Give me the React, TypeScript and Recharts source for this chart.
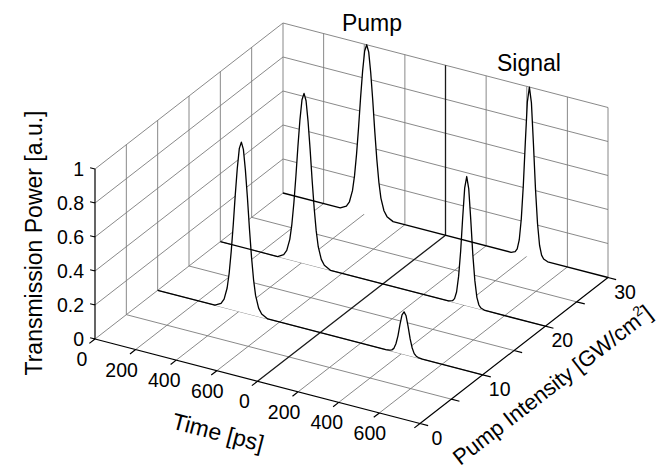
import React from "react";
import { ScatterChart, Scatter, XAxis, YAxis } from "recharts";

// ---- data ----
const timeTicks = [0, 200, 400, 600, 800, 1000, 1200, 1400, 1600];
const timeTickLabels = ["0", "200", "400", "600", "0", "200", "400", "600", ""];
const intensityTicks = [0, 5, 10, 15, 20, 25, 30];
const intensityTickLabels = ["0", "", "10", "", "20", "", "30"];
const powerTicks = [0, 0.2, 0.4, 0.6, 0.8, 1];
const powerTickLabels = ["0", "0.2", "0.4", "0.6", "0.8", "1"];
const sectionBreakPs = 800;

const intensities = [10, 20, 30];
const timePs = [
  0, 282, 312, 327, 342, 352, 362, 372, 382, 392, 402, 412, 422, 432, 442, 452, 462, 472, 482, 497, 512, 542,
  1123, 1143, 1153, 1163, 1173, 1183, 1193, 1203, 1213, 1223, 1233, 1243, 1253, 1263, 1273, 1283, 1303, 1600,
];
const power10 = [
  0, 0, 0.02, 0.05, 0.12, 0.21, 0.34, 0.5, 0.68, 0.84, 0.96, 1, 0.96, 0.84, 0.68, 0.5, 0.34, 0.21, 0.12, 0.05, 0.02, 0,
  0, 0.003, 0.008, 0.02, 0.05, 0.1, 0.17, 0.23, 0.25, 0.23, 0.17, 0.1, 0.05, 0.02, 0.008, 0.003, 0, 0,
];
const power20 = [
  0, 0, 0.02, 0.05, 0.12, 0.21, 0.34, 0.5, 0.68, 0.84, 0.96, 1, 0.96, 0.84, 0.68, 0.5, 0.34, 0.21, 0.12, 0.05, 0.02, 0,
  0, 0.008, 0.023, 0.065, 0.16, 0.31, 0.51, 0.69, 0.76, 0.69, 0.51, 0.31, 0.16, 0.065, 0.023, 0.008, 0, 0,
];
const power30 = [
  0, 0, 0.02, 0.05, 0.12, 0.21, 0.34, 0.5, 0.68, 0.84, 0.96, 1, 0.96, 0.84, 0.68, 0.5, 0.34, 0.21, 0.12, 0.05, 0.02, 0,
  0, 0.01, 0.03, 0.085, 0.21, 0.41, 0.67, 0.91, 1, 0.91, 0.67, 0.41, 0.21, 0.085, 0.03, 0.01, 0, 0,
];
const powerSeries = [power10, power20, power30];

// ---- 3d box -> screen projection (layout) ----
const W = 663;
const H = 474;
const T_MAX = 1600;
const I_MAX = 30;
const ORIGIN = { x: 95, y: 339 };
const T_VEC = { x: 325, y: 84.5 };
const I_VEC = { x: 188, y: -146 };
const Z_VEC = { x: 0, y: -170 };

type P3 = [number, number, number];

const project = ([t, i, z]: P3) => ({
  x: ORIGIN.x + (T_VEC.x * t) / T_MAX + (I_VEC.x * i) / I_MAX + Z_VEC.x * z,
  y: ORIGIN.y + (T_VEC.y * t) / T_MAX + (I_VEC.y * i) / I_MAX + Z_VEC.y * z,
});

const segs = (list: [P3, P3][]) => list.flatMap(([a, b]) => [project(a), project(b)]);

const gridList: [P3, P3][] = [];
intensityTicks.forEach((i) => i > 0 && gridList.push([[0, i, 0], [0, i, 1]]));
powerTicks.forEach((z) => gridList.push([[0, 0, z], [0, I_MAX, z]]));
timeTicks.forEach((t) => t > 0 && t !== sectionBreakPs && gridList.push([[t, I_MAX, 0], [t, I_MAX, 1]]));
powerTicks.forEach((z) => z > 0 && gridList.push([[0, I_MAX, z], [T_MAX, I_MAX, z]]));
timeTicks.forEach((t) => t > 0 && t < T_MAX && t !== sectionBreakPs && gridList.push([[t, 0, 0], [t, I_MAX, 0]]));
intensityTicks.forEach((i) => i > 0 && i < I_MAX && gridList.push([[0, i, 0], [T_MAX, i, 0]]));

const dividerList: [P3, P3][] = [
  [[sectionBreakPs, 0, 0], [sectionBreakPs, I_MAX, 0]],
  [[sectionBreakPs, I_MAX, 0], [sectionBreakPs, I_MAX, 1]],
];

const axisList: [P3, P3][] = [
  [[0, 0, 0], [0, 0, 1]],
  [[0, 0, 0], [T_MAX, 0, 0]],
  [[T_MAX, 0, 0], [T_MAX, I_MAX, 0]],
];
powerTicks.forEach((z) => axisList.push([[0, 0, z], [-24, 0, z]]));
timeTicks.forEach((t) => axisList.push([[t, 0, 0], [t, -0.9, 0]]));
intensityTicks.forEach((i) => axisList.push([[T_MAX, i, 0], [T_MAX + 40, i, 0]]));

const curveData = (pw: number[], i: number) => timePs.map((t, k) => project([t, i, pw[k]]));
const fillData = (pw: number[], i: number) => [
  ...curveData(pw, i),
  project([T_MAX, i, 0]),
  project([0, i, 0]),
];

const timeLabelDx = [-13, -14, -12, -9.5];
const timeLabelData = timeTicks
  .map((t, k) => {
    const p = project([t, 0, 0]);
    return { x: p.x + timeLabelDx[k % 4], y: p.y + 27, label: timeTickLabels[k] };
  })
  .filter((d) => d.label);
const intensityLabelData = intensityTicks
  .map((i, k) => {
    const p = project([T_MAX, i, 0]);
    return { x: p.x + 17, y: p.y + 21, label: intensityTickLabels[k] };
  })
  .filter((d) => d.label);
const powerLabelData = powerTicks.map((z, k) => {
  const p = project([0, 0, z]);
  return { x: p.x - 11, y: p.y + 7, label: powerTickLabels[k] };
});

const titleData = [
  { x: 372, y: 31, label: "Pump", angle: 0 },
  { x: 529, y: 71, label: "Signal", angle: 0 },
  { x: 42, y: 243, label: "Transmission Power [a.u.]", angle: -90 },
  { x: 216, y: 440, label: "Time [ps]", angle: 14.6 },
];

const FONT = "'Liberation Sans', Arial, Helvetica, sans-serif";

const noDot = () => <g />;

const segmentLine = (stroke: string, width: number) => (props: any) => {
  const pts = props.points || [];
  let d = "";
  for (let k = 0; k + 1 < pts.length; k += 2) {
    d += `M${pts[k].x},${pts[k].y}L${pts[k + 1].x},${pts[k + 1].y}`;
  }
  return <path d={d} stroke={stroke} strokeWidth={width} fill="none" />;
};

const polyLine = (props: any) => {
  const pts = props.points || [];
  const d = "M" + pts.map((p: any) => `${p.x},${p.y}`).join("L");
  return <path d={d} stroke="#000" strokeWidth={1.3} fill="none" strokeLinejoin="round" />;
};

const polyFill = (props: any) => {
  const pts = props.points || [];
  const d = "M" + pts.map((p: any) => `${p.x},${p.y}`).join("L") + "Z";
  return <path d={d} stroke="none" fill="#fff" />;
};

const textShape = (size: number, anchor: "start" | "middle" | "end") => (props: any) => {
  const { cx, cy, payload } = props;
  const angle = payload.angle || 0;
  return (
    <text
      x={cx}
      y={cy}
      fontSize={size}
      fontFamily={FONT}
      textAnchor={anchor}
      fill="#000"
      transform={angle ? `rotate(${angle}, ${cx}, ${cy})` : undefined}
    >
      {payload.label}
    </text>
  );
};

const intensityTitle = (props: any) => {
  const { cx, cy } = props;
  return (
    <text
      x={cx}
      y={cy}
      fontSize={22}
      fontFamily={FONT}
      textAnchor="middle"
      fill="#000"
      transform={`rotate(-37.8, ${cx}, ${cy})`}
    >
      Pump Intensity [GW/cm
      <tspan fontSize={14} dy={-9}>2</tspan>
      <tspan dy={9}>]</tspan>
    </text>
  );
};

export default function App() {
  return (
    <div style={{ position: "absolute", left: 0, top: 0, background: "#fff" }}>
      <ScatterChart width={W} height={H} margin={{ top: 0, right: 0, bottom: 0, left: 0 }}>
        <XAxis type="number" dataKey="x" domain={[0, W]} hide allowDataOverflow />
        <YAxis type="number" dataKey="y" domain={[0, H]} reversed hide allowDataOverflow />
        <Scatter data={segs(gridList)} shape={noDot} line={segmentLine("#7c7c7c", 0.9)} isAnimationActive={false} />
        <Scatter data={segs(dividerList)} shape={noDot} line={segmentLine("#1a1a1a", 1.3)} isAnimationActive={false} />
        {[2, 1, 0].map((k) => (
          <Scatter
            key={`fill-${k}`}
            data={fillData(powerSeries[k], intensities[k])}
            shape={noDot}
            line={polyFill}
            isAnimationActive={false}
          />
        ))}
        {[2, 1, 0].map((k) => (
          <Scatter
            key={`curve-${k}`}
            data={curveData(powerSeries[k], intensities[k])}
            shape={noDot}
            line={polyLine}
            isAnimationActive={false}
          />
        ))}
        <Scatter data={segs(axisList)} shape={noDot} line={segmentLine("#000", 1.2)} isAnimationActive={false} />
        <Scatter data={powerLabelData} shape={textShape(19.5, "end")} isAnimationActive={false} />
        <Scatter data={timeLabelData} shape={textShape(19.5, "middle")} isAnimationActive={false} />
        <Scatter data={intensityLabelData} shape={textShape(19.5, "middle")} isAnimationActive={false} />
        <Scatter data={titleData} shape={textShape(23, "middle")} isAnimationActive={false} />
        <Scatter data={[{ x: 557, y: 391 }]} shape={intensityTitle} isAnimationActive={false} />
      </ScatterChart>
    </div>
  );
}
